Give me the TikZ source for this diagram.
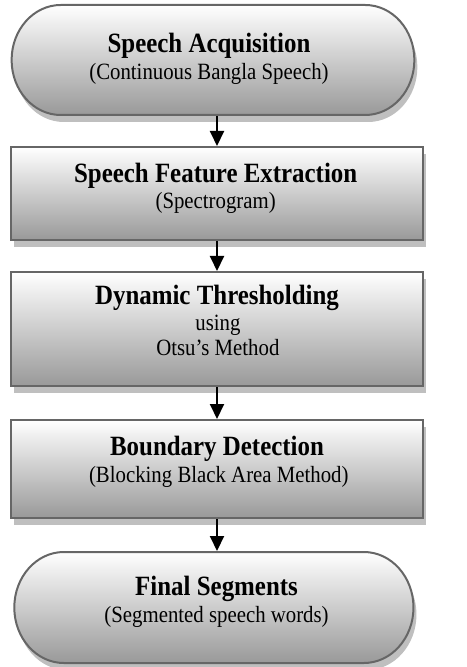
\documentclass[tikz,border=0pt]{standalone}
\usepackage{fontspec}
\setmainfont{Liberation Serif}
\usetikzlibrary{arrows.meta,shapes.misc,shadows}
\tikzset{
  boxshade/.style={draw=black!60, line width=1pt, top color=white, bottom color=black!40,
    drop shadow={shadow xshift=1.5pt, shadow yshift=-3.5pt, fill=black!25, opacity=1}},
  rectbox/.style={boxshade, rectangle, inner sep=0pt},
  stadium/.style={boxshade, rounded rectangle, inner sep=0pt},
  titletext/.style={anchor=base, inner sep=0pt, font=\fontsize{13.95}{16}\selectfont\bfseries},
  subtext/.style={anchor=base, inner sep=0pt, font=\fontsize{11.65}{14}\selectfont},
  flowarrow/.style={line width=1pt, -{Triangle[width=7pt,length=7.5pt]}}
}
\begin{document}
\begin{tikzpicture}[x=0.5pt,y=-0.5pt]
\useasboundingbox (0,0) rectangle (466,667);
\clip (0,0) rectangle (466,667);
\begin{scope}[xscale=0.893, transform shape]
% shapes
\node[stadium, minimum width=225.5pt, minimum height=55pt] (s1) at (238.5,60) {};
\node[rectbox, minimum width=231pt, minimum height=46.5pt] (b2) at (243,193.5) {};
\node[rectbox, minimum width=231pt, minimum height=57pt] (b3) at (243,329) {};
\node[rectbox, minimum width=231pt, minimum height=49pt] (b4) at (243,469) {};
\node[stadium, minimum width=223.5pt, minimum height=55.5pt] (s5) at (239.5,607.5) {};
% texts
\node[titletext] (t1a) at (234,53) {Speech Acquisition};
\node[subtext] (t1b) at (234,80) {(Continuous Bangla Speech)};
\node[titletext] (t2a) at (241.5,183) {Speech Feature Extraction};
\node[subtext] (t2b) at (241.5,209) {(Spectrogram)};
\node[titletext] (t3a) at (243,305) {Dynamic Thresholding};
\node[subtext] (t3b) at (244,330) {using};
\node[subtext] (t3c) at (244,355) {Otsu’s Method};
\node[titletext] (t4a) at (243,455) {Boundary Detection};
\node[subtext] (t4b) at (245,482) {(Blocking Black Area Method)};
\node[titletext] (t5a) at (242.5,595) {Final Segments};
\node[subtext] (t5b) at (242.5,622) {(Segmented speech words)};
% arrows
\coordinate (ax) at (243,0);
\draw[flowarrow] (s1.south -| ax) -- (b2.north -| ax);
\draw[flowarrow] (b2.south -| ax) -- (b3.north -| ax);
\draw[flowarrow] (b3.south -| ax) -- (b4.north -| ax);
\draw[flowarrow] (b4.south -| ax) -- (s5.north -| ax);
\end{scope}
\end{tikzpicture}
\end{document}
